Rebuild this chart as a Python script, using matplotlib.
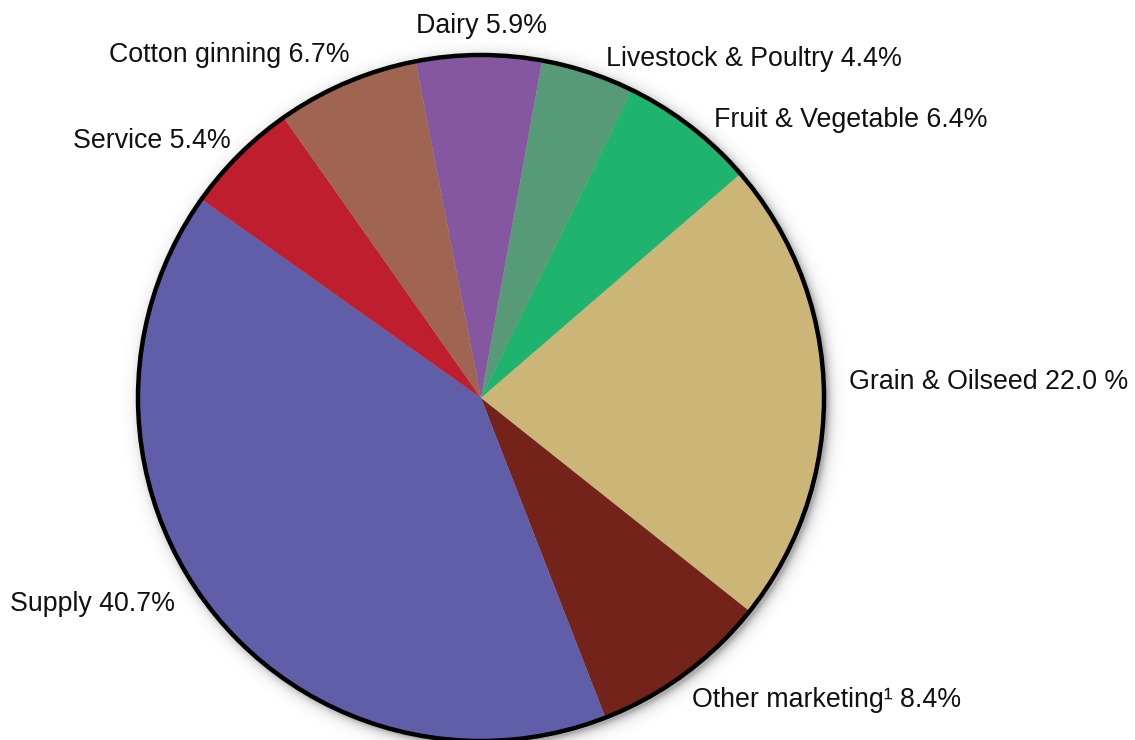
import numpy as np
import matplotlib
matplotlib.use("Agg")
import matplotlib.pyplot as plt

# Share of cooperative businesses by type (percent)
categories = ["Dairy", "Livestock & Poultry", "Fruit & Vegetable", "Grain & Oilseed",
              "Other marketing\u00b9", "Supply", "Service", "Cotton ginning"]
shares = [5.9, 4.4, 6.4, 22.0, 8.4, 40.7, 5.4, 6.7]
label_texts = ["Dairy 5.9%", "Livestock & Poultry 4.4%", "Fruit & Vegetable 6.4%",
               "Grain & Oilseed 22.0 %", "Other marketing\u00b9 8.4%", "Supply 40.7%",
               "Service 5.4%", "Cotton ginning 6.7%"]
colors = ["#8457A0", "#579A77", "#1EB46E", "#CBB677", "#74231A", "#605EA8",
          "#BE1E2D", "#A06552"]

# Layout in pixel units (origin at top-left of the canvas)
W, H = 1135, 740
CX, CY, R = 481, 398, 343
# label anchors: (x, baseline y, horizontal alignment)
label_pos = [(481, 33, "center"), (606, 66, "left"), (714, 127, "left"),
             (849, 389, "left"), (692, 707, "left"), (10, 611, "left"),
             (231, 148, "right"), (350, 62, "right")]

plt.rcParams["font.family"] = ["Liberation Sans", "DejaVu Sans"]

fig = plt.figure(figsize=(W / 100, H / 100), dpi=100)
ax = fig.add_axes([0, 0, 1, 1])
ax.set_xlim(0, W)
ax.set_ylim(0, H)
ax.set_aspect("equal")
ax.axis("off")

# soft drop shadow to the lower right of the disc
yy, xx = np.mgrid[0:H, 0:W]
d = np.hypot(xx - (CX + 3), yy - (CY + 3)) - R
alpha = np.exp(-np.clip(d, 0, None) / 5.0) * 0.32
alpha[d < 0] = 0.32
shadow = np.zeros((H, W, 4))
shadow[..., 3] = alpha
ax.imshow(shadow, extent=(0, W, 0, H), origin="upper", zorder=0, interpolation="bilinear")

wedges, _ = ax.pie(shares, colors=colors, startangle=101, counterclock=False,
                   radius=R, center=(CX, H - CY), normalize=True,
                   wedgeprops=dict(linewidth=0, edgecolor="none", antialiased=True))
for w in wedges:
    w.set_zorder(2)

# black outline around the whole disc
ax.add_patch(plt.Circle((CX, H - CY), R, fill=False, edgecolor="black",
                        linewidth=3.2, zorder=3))

for text, (x, y, ha) in zip(label_texts, label_pos):
    ax.text(x, H - y, text, ha=ha, va="baseline", fontsize=19.3, color="#111111", zorder=4)

ax.set_xlim(0, W)
ax.set_ylim(0, H)
fig.savefig("out.png", dpi=100)
